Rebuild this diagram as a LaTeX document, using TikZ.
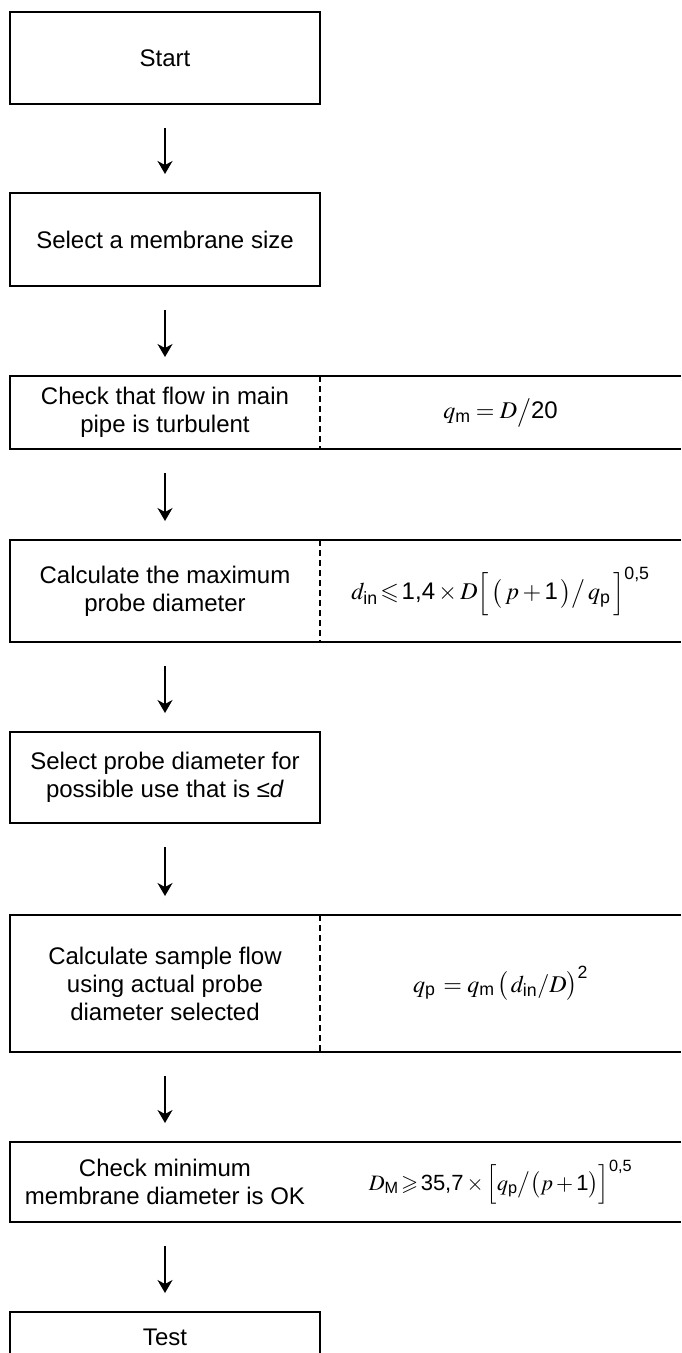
\documentclass[tikz,border=0pt]{standalone}
\usepackage{amsmath,amssymb}
\usepackage{mathptmx}
\usepackage[no-math]{fontspec}
\setmainfont{Liberation Sans}
\usetikzlibrary{arrows.meta, positioning}
\newcommand{\stepfont}{\fontsize{24}{28}\selectfont}
\newcommand{\smallform}{\fontsize{22}{26}\selectfont}
\tikzset{
  stepbox/.style={draw, line width=2.5pt, minimum width=310pt, align=center,
                  inner sep=0pt, outer sep=0pt, font=\stepfont},
  steptext/.style={stepbox, draw=none},
  formtext/.style={minimum width=361pt, inner sep=0pt, outer sep=0pt, font=\stepfont},
  rowline/.style={line width=2.5pt},
  divline/.style={line width=2pt, dash pattern=on 6pt off 4pt},
  arr/.style={-{Stealth[length=13pt, width=15pt, inset=4pt]}, line width=1.5pt,
              shorten <=24pt, shorten >=19pt},
}

\begin{document}
\begin{tikzpicture}[x=1pt, y=-1pt]
  \useasboundingbox (0,0) rectangle (681,1353);
  \node[stepbox, minimum height=92pt]  (start)    at (165,58)     {Start};
  \node[stepbox, minimum height=93pt]  (selmem)   at (165,239.5)  {Select a membrane size};
  \node[steptext, minimum height=73pt] (chkflow)  at (165,412.5)  {Check that flow in main\\pipe is turbulent};
  \node[formtext, minimum height=73pt, right=0pt of chkflow] (chkflowf)
       {$q_{\text{m}} = D\big/\text{20}$};
  \node[steptext, minimum height=102pt] (calcmax) at (165,591)    {Calculate the maximum\\probe diameter};
  \node[formtext, minimum height=102pt, right=0pt of calcmax] (calcmaxf)
       {$d_{\text{in}}\!\leqslant\!\text{1,4}\times D\Big[\,\big(\,p+\text{1}\,\big)\big/\,q_{\text{p}}\,\Big]^{\text{0,5}}$};
  \node[stepbox, minimum height=91pt]  (selprobe) at (165,777.5)  {Select probe diameter for\\possible use that is ≤\textit{d}};
  \node[steptext, minimum height=137pt] (calcflow) at (165,983.5) {Calculate sample flow\\using actual probe\\diameter selected};
  \node[formtext, minimum height=137pt, right=0pt of calcflow] (calcflowf)
       {$q_{\text{p}}\, = q_{\text{m}}\,\big(\,d_{\text{in}}/D\big)^{\text{2}}$};
  \node[steptext, minimum height=80pt] (chkmem)   at (165,1182)   {Check minimum\\membrane diameter is OK};
  \node[formtext, minimum height=80pt, right=0pt of chkmem, font=\smallform] (chkmemf)
       {$D_{\text{M}}\!\geqslant\!\text{35,7}\times\Big[q_{\text{p}}\big/\big(p+\text{1}\big)\Big]^{\text{0,5}}$};
  \node[stepbox, minimum height=50pt]  (test)     at (165,1337)   {Test};

  \foreach \row in {chkflow, calcmax, calcflow, chkmem}
    \draw[rowline] (\row f.north east) -| (\row.west) |- (\row f.south east);
  \foreach \row in {chkflow, calcmax, calcflow}
    \draw[divline] (\row.north east) -- (\row.south east);

  \draw[arr] (start) -- (selmem);
  \draw[arr] (selmem) -- (chkflow);
  \draw[arr] (chkflow) -- (calcmax);
  \draw[arr] (calcmax) -- (selprobe);
  \draw[arr] (selprobe) -- (calcflow);
  \draw[arr] (calcflow) -- (chkmem);
  \draw[arr] (chkmem) -- (test);
\end{tikzpicture}
\end{document}
